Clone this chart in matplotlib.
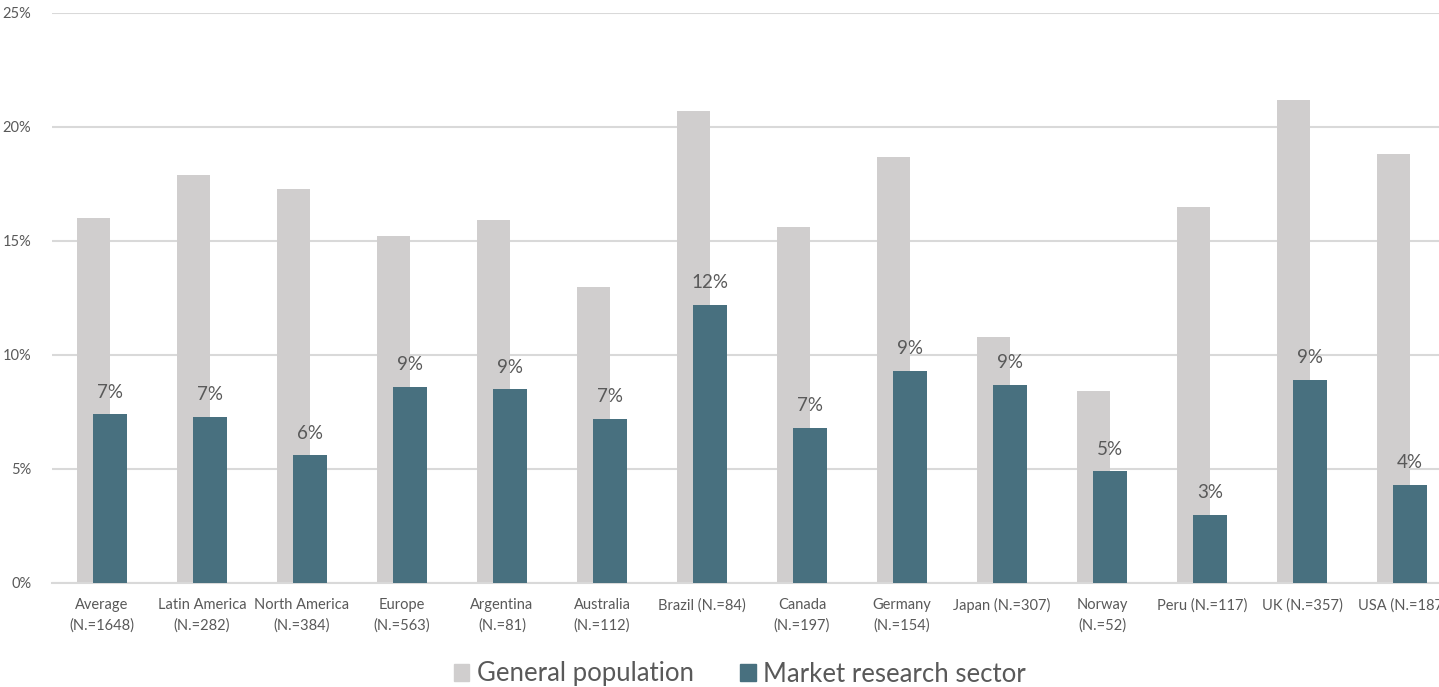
import matplotlib
matplotlib.use("Agg")
import matplotlib.pyplot as plt
import numpy as np
import math
from matplotlib.patches import Patch

categories = ["Average\n(N.=1648)", "Latin America\n(N.=282)", "North America\n(N.=384)",
              "Europe\n(N.=563)", "Argentina\n(N.=81)", "Australia\n(N.=112)",
              "Brazil (N.=84)", "Canada\n(N.=197)", "Germany\n(N.=154)", "Japan (N.=307)",
              "Norway\n(N.=52)", "Peru (N.=117)", "UK (N.=357)", "USA (N.=187)"]
general_population = [16.0, 17.9, 17.3, 15.2, 15.9, 13.0, 20.7, 15.6, 18.7, 10.8, 8.4, 16.5, 21.2, 18.8]
market_research = [7.4, 7.3, 5.6, 8.6, 8.5, 7.2, 12.2, 6.8, 9.3, 8.7, 4.9, 3.0, 8.9, 4.3]
yticks = [0, 5, 10, 15, 20, 25]

plt.rcParams['font.family'] = ['Lato', 'DejaVu Sans']
text_color = "#595959"
gray = "#D0CECE"
teal = "#48707F"
grid = "#D9D9D9"

W, H = 1439, 687
fig = plt.figure(figsize=(W / 100, H / 100), dpi=100)
left, right = 52, 1452
bottom, top = 583, 13
ax = fig.add_axes([left / W, 1 - bottom / H, (right - left) / W, (bottom - top) / H])

x = np.arange(len(categories))
ax.bar(x - 0.085, general_population, width=0.33, color=gray, zorder=2)
ax.bar(x + 0.08, market_research, width=0.34, color=teal, zorder=3)

for xi, v in zip(x, market_research):
    ax.text(xi + 0.08, v + 0.6, f"{math.floor(v + 0.5)}%", ha="center", va="bottom",
            fontsize=13.5, color=text_color, zorder=4)

ax.set_xlim(-0.5, len(categories) - 0.5)
ax.set_ylim(0, 25)
ax.set_yticks(yticks)
ax.set_yticklabels([f"{t}%" for t in yticks])
ax.yaxis.grid(True, color=grid, linewidth=1.5, zorder=0)
ax.set_axisbelow(True)
for s in ["top", "right", "left"]:
    ax.spines[s].set_visible(False)
ax.spines["bottom"].set_color(grid)
ax.spines["bottom"].set_linewidth(1.5)
ax.tick_params(axis="both", length=0, colors=text_color, labelsize=10.5)
ax.tick_params(axis="y", pad=15)
ax.tick_params(axis="x", pad=11)
ax.set_xticks(x)
ax.set_xticklabels(categories, linespacing=1.5)

handles = [Patch(color=gray, label="General population"),
           Patch(color=teal, label="Market research sector")]
fig.legend(handles=handles, loc="center", bbox_to_anchor=(740 / W, 1 - 674 / H),
           ncol=2, frameon=False, fontsize=18.5, labelcolor=text_color,
           handlelength=0.6, handleheight=0.6, handletextpad=0.3, columnspacing=1.8)

fig.savefig("out.png", dpi=100)
